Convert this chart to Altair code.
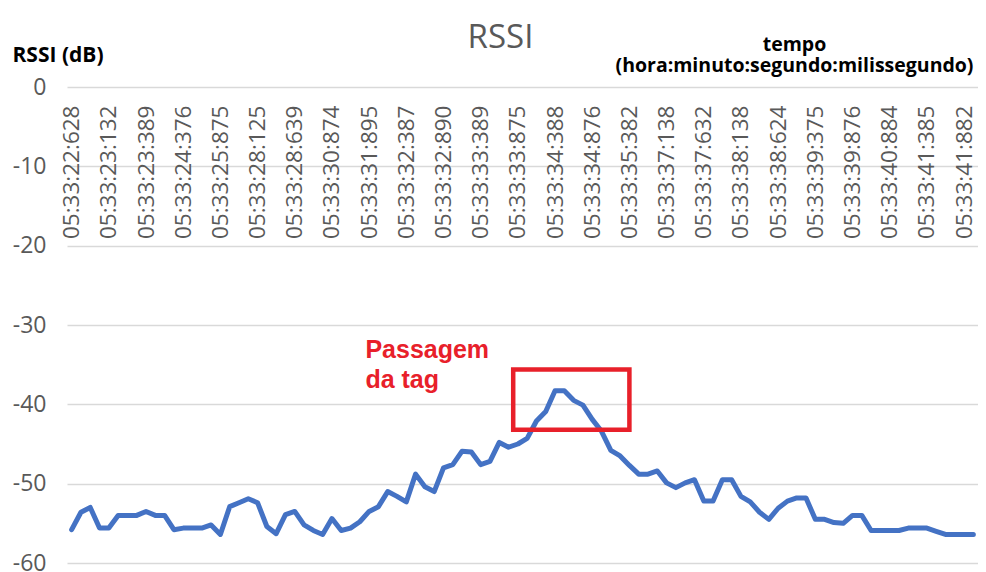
import altair as alt
import pandas as pd

# RSSI samples (dB), one per category
rssi = [-55.8, -53.6, -53.0, -55.6, -55.6, -54.0, -54.0, -54.0, -53.5, -54.0,
        -54.0, -55.8, -55.6, -55.6, -55.6, -55.2, -56.4, -52.9, -52.4, -51.9,
        -52.4, -55.4, -56.3, -53.9, -53.5, -55.2, -55.9, -56.4, -54.4, -55.9,
        -55.6, -54.8, -53.5, -52.9, -51.0, -51.6, -52.3, -48.8, -50.4, -51.0,
        -48.0, -47.6, -45.9, -46.0, -47.6, -47.2, -44.8, -45.4, -45.0, -44.3,
        -42.1, -40.9, -38.3, -38.3, -39.5, -40.1, -41.9, -43.4, -45.8, -46.5,
        -47.7, -48.8, -48.8, -48.4, -49.9, -50.5, -49.9, -49.5, -52.2, -52.2,
        -49.5, -49.5, -51.6, -52.3, -53.6, -54.5, -53.1, -52.2, -51.8, -51.8,
        -54.5, -54.5, -54.9, -55.0, -54.0, -54.0, -55.9, -55.9, -55.9, -55.9,
        -55.6, -55.6, -55.6, -56.0, -56.4, -56.4, -56.4, -56.4]

# time labels shown on every 4th category
tick_labels = ["05:33:22:628", "05:33:23:132", "05:33:23:389", "05:33:24:376",
               "05:33:25:875", "05:33:28:125", "05:33:28:639", "05:33:30:874",
               "05:33:31:895", "05:33:32:387", "05:33:32:890", "05:33:33:389",
               "05:33:33:875", "05:33:34:388", "05:33:34:876", "05:33:35:382",
               "05:33:37:138", "05:33:37:632", "05:33:38:138", "05:33:38:624",
               "05:33:39:375", "05:33:39:876", "05:33:40:884", "05:33:41:385",
               "05:33:41:882"]
label_step = 4

y_ticks = [-60, -50, -40, -30, -20, -10, 0]

# annotation box (category index range, dB range) and note
box_x = [47.5, 60.0]
box_y = [-35.6, -43.2]
note_text = "Passagem\nda tag"
note_x = 31.6
note_y = -34.1

RED = "#e8202a"
BLUE = "#4472C4"
GRAY = "#595959"

W, H = 911, 476

df = pd.DataFrame({"i": list(range(len(rssi))), "rssi": rssi})
box_df = pd.DataFrame({"i": [box_x[0]], "i2": [box_x[1]], "rssi": [box_y[0]], "rssi2": [box_y[1]]})
note_df = pd.DataFrame({"i": [note_x], "rssi": [note_y], "t": [note_text]})

xscale = alt.Scale(domain=[-0.5, len(rssi) - 0.5], nice=False, zero=False)
yscale = alt.Scale(domain=[-60, 0], nice=False, zero=False)

label_js = "[" + ",".join("'" + t + "'" for t in tick_labels) + "]"

x_axis = alt.Axis(
    orient="bottom", offset=-H,
    values=[k * label_step for k in range(len(tick_labels))],
    labelExpr=label_js + "[datum.value / " + str(label_step) + "]",
    labelAngle=-90, labelFont="Open Sans", labelFontSize=22.5, labelColor=GRAY,
    labelPadding=18, labelOverlap=False, labelFlush=False,
    ticks=False, tickSize=0, domain=False, grid=False,
    title=["tempo", "(hora:minuto:segundo:milissegundo)"],
    titleFont="Open Sans", titleFontWeight="bold", titleFontSize=19.5,
    titleColor="#000000", titleX=727, titleY=-37, titleAlign="center",
    titleBaseline="alphabetic", titleLineHeight=21, titleAngle=0,
)

y_axis = alt.Axis(
    values=y_ticks, labelExpr="toString(datum.value)",
    labelFont="Open Sans", labelFontSize=23, labelColor=GRAY, labelPadding=21,
    ticks=False, domain=False, grid=True, gridColor="#d9d9d9", gridWidth=1.5,
    title="RSSI (dB)", titleAngle=0, titleX=-55, titleY=-26, titleAlign="left",
    titleBaseline="alphabetic", titleFont="Open Sans", titleFontWeight="bold",
    titleFontSize=21, titleColor="#000000",
)

line = alt.Chart(df).mark_line(
    color=BLUE, strokeWidth=5, strokeJoin="round", strokeCap="round"
).encode(
    x=alt.X("i:Q", scale=xscale, axis=x_axis),
    y=alt.Y("rssi:Q", scale=yscale, axis=y_axis),
)

box = alt.Chart(box_df).mark_rect(
    filled=False, stroke=RED, strokeWidth=4.5
).encode(
    x=alt.X("i:Q", scale=xscale, axis=x_axis),
    x2="i2:Q",
    y=alt.Y("rssi:Q", scale=yscale, axis=y_axis),
    y2="rssi2:Q",
)

note = alt.Chart(note_df).mark_text(
    align="left", baseline="alphabetic", font="Liberation Sans",
    fontWeight="bold", fontSize=25, color=RED, lineBreak="\n", lineHeight=30,
).encode(
    x=alt.X("i:Q", scale=xscale, axis=x_axis),
    y=alt.Y("rssi:Q", scale=yscale, axis=y_axis),
    text="t:N",
)

chart = alt.layer(line, box, note).properties(
    width=W, height=H,
    autosize=alt.AutoSizeParams(type="none"),
    padding={"left": 59, "top": 79, "right": 0, "bottom": 9},
    title=alt.TitleParams(
        text="RSSI", font="Open Sans", fontSize=33, fontWeight="normal",
        color=GRAY, anchor="middle", frame="group", dx=-22, offset=-47,
        baseline="alphabetic",
    ),
    background="white",
).configure_view(stroke=None).configure_axis(labelOverlap=False)

chart.save("out.html", embed_options={"renderer": "svg", "actions": False})
